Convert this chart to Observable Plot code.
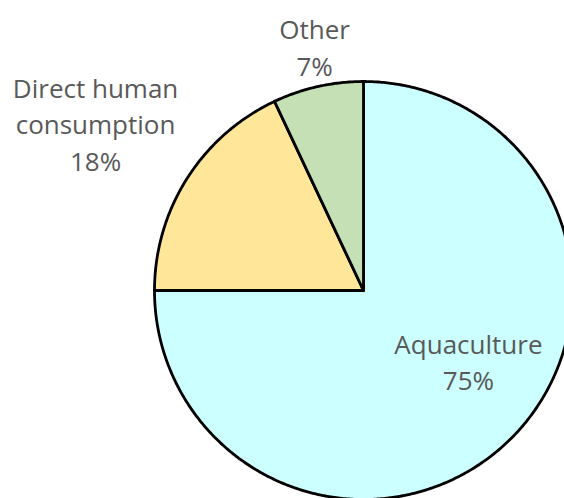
<!DOCTYPE html>
<html>
<head>
<meta charset="utf-8">
<script src="https://cdn.jsdelivr.net/npm/d3@7"></script>
<script src="https://cdn.jsdelivr.net/npm/@observablehq/plot@0.6"></script>
<style>
  html, body { margin: 0; padding: 0; background: #ffffff; overflow: hidden; }
  #chart svg { display: block; overflow: hidden; }
</style>
</head>
<body>
<div id="chart"></div>
<script>
// Uses of the catch, share of total (%)
const categories = ["Aquaculture", "Direct human\nconsumption", "Other"];
const shares = [75, 18, 7];
const colors = ["#ccffff", "#ffe699", "#c5e0b4"];

// Layout: pie centre and radius in pixels, label anchors in radius units
const W = 564, H = 498;
const CX = 363, CY = 290, R = 209;
const labelAnchors = [[0.502, -0.335], [-1.282, 0.804], [-0.234, 1.17]];

// Slices clockwise from 12 o'clock, in data order
const slices = d3.pie().sort(null).value(d => d.share)(
  categories.map((name, i) => ({name, share: shares[i]}))
);

// Outline of each wedge: centre -> arc -> centre, in radius units (y up)
const outline = slices.flatMap(s => {
  const n = Math.max(2, Math.ceil((s.endAngle - s.startAngle) / (Math.PI / 360)));
  const pts = [{name: s.data.name, x: 0, y: 0}];
  for (let k = 0; k <= n; ++k) {
    const a = s.startAngle + (s.endAngle - s.startAngle) * k / n;
    pts.push({name: s.data.name, x: Math.sin(a), y: Math.cos(a)});
  }
  pts.push({name: s.data.name, x: 0, y: 0});
  return pts;
});

const labels = slices.map((s, i) => ({
  text: `${s.data.name}\n${s.data.share}%`,
  x: labelAnchors[i][0],
  y: labelAnchors[i][1]
}));

const chart = Plot.plot({
  width: W,
  height: H,
  margin: 0,
  style: {background: "#ffffff", overflow: "hidden"},
  x: {axis: null, domain: [-CX / R, (W - CX) / R]},
  y: {axis: null, domain: [(CY - H) / R, CY / R]},
  color: {domain: categories, range: colors},
  marks: [
    Plot.line(outline, {
      x: "x", y: "y", z: "name", fill: "name",
      stroke: "#000000", strokeWidth: 2.8, curve: "linear"
    }),
    Plot.text(labels, {
      x: "x", y: "y", text: "text",
      fill: "#595959",
      fontFamily: "'Open Sans', Lato, sans-serif",
      fontSize: 26,
      lineHeight: 1.404,
      textAnchor: "middle"
    })
  ]
});

document.getElementById("chart").appendChild(chart);
</script>
</body>
</html>
